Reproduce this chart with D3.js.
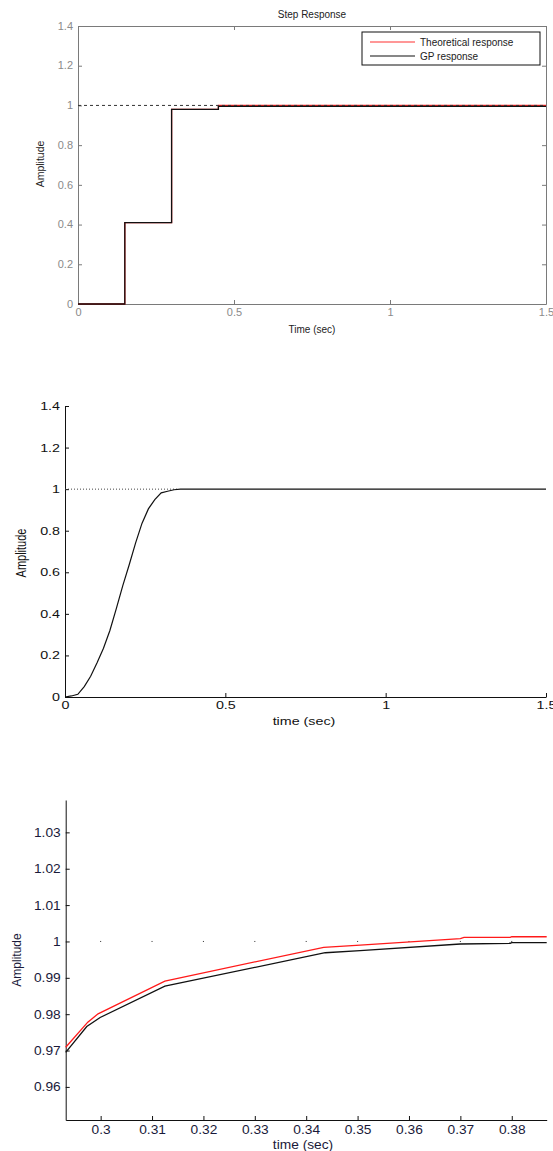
<!DOCTYPE html>
<html>
<head>
<meta charset="utf-8">
<script src="https://cdn.jsdelivr.net/npm/d3@7"></script>
<style>
  body { margin: 0; background: #fff; }
  svg { display: block; font-family: "Liberation Sans", Arial, sans-serif; }
</style>
</head>
<body>
<div id="container"></div>
<script>
let width = 553
let height = 1151

// chart 1: step response, sampled GP vs theoretical
let stepTicksX = [0, 0.5, 1, 1.5]
let stepTicksY = [0, 0.2, 0.4, 0.6, 0.8, 1, 1.2, 1.4]
let gpTime1 = [0, 0.15, 0.3, 0.45, 1.5]
let gpAmp1 = [0, 0.41, 0.98, 0.995, 0.995]
let theoTime1 = [0, 0.15, 0.3, 0.45, 1.5]
let theoAmp1 = [0, 0.41, 0.98, 1.0, 1.0]
let legendNames = ['Theoretical response', 'GP response']
let legendColors = ['#ff3030', '#111']

// chart 2: continuous step response
let contTime = [0, 0.02, 0.04, 0.06, 0.08, 0.10, 0.12, 0.14, 0.16, 0.18, 0.20, 0.22, 0.24, 0.26, 0.28, 0.30, 0.32, 0.34, 0.36, 1.5]
let contAmp = [0, 0.005, 0.013, 0.05, 0.10, 0.165, 0.235, 0.32, 0.425, 0.535, 0.635, 0.74, 0.835, 0.905, 0.95, 0.982, 0.99, 0.997, 1.0, 1.0]

// chart 3: zoom around steady state
let zoomTicksX = [0.3, 0.31, 0.32, 0.33, 0.34, 0.35, 0.36, 0.37, 0.38]
let zoomTicksY = [0.96, 0.97, 0.98, 0.99, 1, 1.01, 1.02, 1.03]
let theoTime3 = [0.2932, 0.2975, 0.2995, 0.3125, 0.3434, 0.3505, 0.3700, 0.3707, 0.3797, 0.3800, 0.3868]
let theoAmp3 = [0.9709, 0.9778, 0.9801, 0.9891, 0.9984, 0.9990, 1.0008, 1.0011, 1.0011, 1.0013, 1.0013]
let gpTime3 = [0.2932, 0.2973, 0.2999, 0.3125, 0.3437, 0.3505, 0.3700, 0.3797, 0.3800, 0.3868]
let gpAmp3 = [0.9695, 0.9766, 0.9791, 0.9877, 0.9969, 0.9975, 0.9993, 0.9995, 0.9997, 0.9997]

let fmt = d => String(+d.toFixed(3))
let zip = (a, b) => a.map((d, i) => [d, b[i]])

let svg = d3.select('#container').append('svg')
    .attr('width', width)
    .attr('height', height)

// style an axis: inward ticks, stretched labels
function styleAxis(g, opt) {
    g.selectAll('.domain').attr('stroke', opt.line).attr('stroke-width', 1)
    g.selectAll('.tick line').attr('stroke', opt.line)
    let t = g.selectAll('.tick text')
        .attr('fill', opt.text)
        .attr('font-size', opt.size)
    if (opt.labels === false) { t.remove(); return }
    if (opt.side === 'left') {
        t.attr('x', -opt.pad / opt.sx).attr('transform', `scale(${opt.sx},1)`)
    } else {
        t.attr('y', opt.pad).attr('transform', `scale(${opt.sx},1)`)
    }
}

/* ---------- chart 1 ---------- */
let x1 = d3.scaleLinear().domain([0, 1.5]).range([78, 546])
let y1 = d3.scaleLinear().domain([0, 1.4]).range([304, 26])
let c1 = svg.append('g')
let o1 = { line: '#7a7a7a', text: '#8a8a8a', size: 10, sx: 1.1, pad: 5 }

c1.append('g').attr('transform', 'translate(0,304)')
    .call(d3.axisBottom(x1).tickValues(stepTicksX).tickFormat(fmt).tickSizeInner(-4).tickSizeOuter(0))
    .call(g => styleAxis(g, { ...o1, side: 'bottom', pad: 5 }))
c1.append('g').attr('transform', 'translate(0,26)')
    .call(d3.axisTop(x1).tickValues(stepTicksX).tickSizeInner(-4).tickSizeOuter(0))
    .call(g => styleAxis(g, { ...o1, labels: false }))
c1.append('g').attr('transform', 'translate(78,0)')
    .call(d3.axisLeft(y1).tickValues(stepTicksY).tickFormat(fmt).tickSizeInner(-4).tickSizeOuter(0))
    .call(g => styleAxis(g, { ...o1, side: 'left', pad: 5 }))
c1.append('g').attr('transform', 'translate(546,0)')
    .call(d3.axisRight(y1).tickValues(stepTicksY).tickSizeInner(-4).tickSizeOuter(0))
    .call(g => styleAxis(g, { ...o1, labels: false }))

let step1 = d3.line().x(d => x1(d[0])).y(d => y1(d[1])).curve(d3.curveStepAfter)
c1.append('path').datum(zip(theoTime1, theoAmp1))
    .attr('d', step1).attr('fill', 'none').attr('stroke', '#ff2020').attr('stroke-width', 1.3)
c1.append('path').datum(zip(gpTime1, gpAmp1))
    .attr('d', step1).attr('fill', 'none').attr('stroke', '#111').attr('stroke-width', 1.3)
c1.append('line')
    .attr('x1', x1(0)).attr('x2', x1(1.5)).attr('y1', y1(1)).attr('y2', y1(1))
    .attr('stroke', '#333').attr('stroke-width', 1).attr('stroke-dasharray', '3,3')

c1.append('text').text('Step Response')
    .attr('x', 312).attr('y', 18).attr('text-anchor', 'middle')
    .attr('font-size', 10).attr('fill', '#222')
c1.append('text').text('Time (sec)')
    .attr('x', 312).attr('y', 333).attr('text-anchor', 'middle')
    .attr('font-size', 10).attr('fill', '#222')
c1.append('text').text('Amplitude')
    .attr('transform', 'translate(44,164) rotate(-90)').attr('text-anchor', 'middle')
    .attr('font-size', 10.5).attr('fill', '#222')

let legend = c1.append('g').attr('transform', 'translate(362,32)')
legend.append('rect').attr('width', 178).attr('height', 33)
    .attr('fill', '#fff').attr('stroke', '#111').attr('stroke-width', 1)
legend.selectAll('line.leg').data(legendNames).join('line')
    .attr('class', 'leg')
    .attr('x1', 8).attr('x2', 53)
    .attr('y1', (d, i) => 10 + i * 14).attr('y2', (d, i) => 10 + i * 14)
    .attr('stroke', (d, i) => legendColors[i]).attr('stroke-width', 1.2)
legend.selectAll('text').data(legendNames).join('text')
    .text(d => d)
    .attr('x', 58).attr('y', (d, i) => 13.5 + i * 14)
    .attr('font-size', 10).attr('fill', '#222')

/* ---------- chart 2 ---------- */
let x2 = d3.scaleLinear().domain([0, 1.5]).range([65, 546])
let y2 = d3.scaleLinear().domain([0, 1.4]).range([697, 406])
let c2 = svg.append('g')
let o2 = { line: '#111', text: '#111', size: 11, sx: 1.3 }

c2.append('g').attr('transform', 'translate(0,697)')
    .call(d3.axisBottom(x2).tickValues(stepTicksX).tickFormat(fmt).tickSizeInner(-4).tickSizeOuter(0))
    .call(g => styleAxis(g, { ...o2, side: 'bottom', pad: 4 }))
c2.append('g').attr('transform', 'translate(65,0)')
    .call(d3.axisLeft(y2).tickValues(stepTicksY).tickFormat(fmt).tickSizeInner(-4).tickSizeOuter(0))
    .call(g => styleAxis(g, { ...o2, side: 'left', pad: 5 }))

c2.append('line')
    .attr('x1', x2(0)).attr('x2', x2(0.35)).attr('y1', y2(1)).attr('y2', y2(1))
    .attr('stroke', '#444').attr('stroke-width', 1).attr('stroke-dasharray', '1,2')
c2.append('path').datum(zip(contTime, contAmp))
    .attr('d', d3.line().x(d => x2(d[0])).y(d => y2(d[1])))
    .attr('fill', 'none').attr('stroke', '#111').attr('stroke-width', 1.2)

c2.append('text').text('time (sec)')
    .attr('transform', 'translate(304,725) scale(1.3,1)').attr('text-anchor', 'middle')
    .attr('font-size', 11).attr('fill', '#111')
c2.append('text').text('Amplitude')
    .attr('transform', 'translate(26,553) rotate(-90) scale(1,1.3)').attr('text-anchor', 'middle')
    .attr('font-size', 11).attr('fill', '#111')

/* ---------- chart 3 ---------- */
let x3 = d3.scaleLinear().domain([0.2932, 0.3868]).range([65.7, 546.7])
let y3 = d3.scaleLinear().domain([0.9509, 1.0389]).range([1120, 800])
let c3 = svg.append('g')
let o3 = { line: '#111', text: '#1a1a3a', size: 12.5, sx: 1.1 }

c3.append('g').attr('transform', 'translate(0,1120)')
    .call(d3.axisBottom(x3).tickValues(zoomTicksX).tickFormat(fmt).tickSizeInner(-4).tickSizeOuter(0))
    .call(g => styleAxis(g, { ...o3, side: 'bottom', pad: 5 }))
c3.append('g').attr('transform', 'translate(65.7,0)')
    .call(d3.axisLeft(y3).tickValues(zoomTicksY).tickFormat(fmt).tickSizeInner(-4).tickSizeOuter(0))
    .call(g => styleAxis(g, { ...o3, side: 'left', pad: 5 }))

// sparse dotted reference at 1
c3.selectAll('rect.ref').data(zoomTicksX).join('rect')
    .attr('class', 'ref')
    .attr('x', d => x3(d) - 0.5).attr('y', y3(1) - 0.5)
    .attr('width', 1).attr('height', 1).attr('fill', '#333')

let line3 = d3.line().x(d => x3(d[0])).y(d => y3(d[1]))
c3.append('path').datum(zip(theoTime3, theoAmp3))
    .attr('d', line3).attr('fill', 'none').attr('stroke', '#ff1a1a').attr('stroke-width', 1.3)
c3.append('path').datum(zip(gpTime3, gpAmp3))
    .attr('d', line3).attr('fill', 'none').attr('stroke', '#111').attr('stroke-width', 1.3)

c3.append('text').text('time (sec)')
    .attr('transform', 'translate(303,1149) scale(1.1,1)').attr('text-anchor', 'middle')
    .attr('font-size', 12.5).attr('fill', '#1a1a3a')
c3.append('text').text('Amplitude')
    .attr('transform', 'translate(21,960) rotate(-90)').attr('text-anchor', 'middle')
    .attr('font-size', 12).attr('fill', '#1a1a3a')
</script>
</body>
</html>
